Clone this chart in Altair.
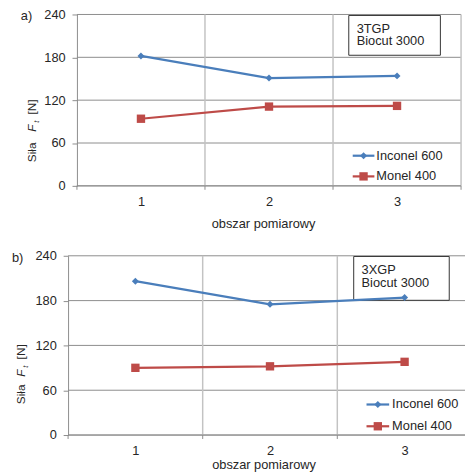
import altair as alt
import pandas as pd

# ---- data ----
areas = [1, 2, 3]
inconel_a = [182, 151, 154]
monel_a = [94, 111, 112]
inconel_b = [206, 175, 184]
monel_b = [90, 92, 98]
series_names = ["Inconel 600", "Monel 400"]
series_colors = ["#4A7EBB", "#BE4B48"]
series_shapes = ["diamond", "square"]
series_sizes = [50, 72]
y_ticks = [0, 60, 120, 180, 240]
x_ticks = [1, 2, 3]
grid_bounds = [1.5, 2.5, 3.5]
tick_bounds = [0.5, 1.5, 2.5, 3.5]
x_title = "obszar pomiarowy"

FONT = "Liberation Sans"
TXT = "#262626"
AX = "#8c8c8c"
VGRID = "#c3c3c3"


def panel(letter, inc, mon, box_lines, W, H, step, shift, c):
    df = pd.DataFrame({
        "area": areas * 2,
        "value": inc + mon,
        "series": [series_names[0]] * 3 + [series_names[1]] * 3,
    })
    x0 = 0.5 - shift / step          # plot starts `shift` px left of the y axis
    xs = alt.Scale(domain=[x0, x0 + W / step], nice=False, zero=False)
    ys = alt.Scale(domain=[0, 240], nice=False, zero=True)
    xaxis = alt.Axis(values=x_ticks, format="d", title=None, ticks=False, grid=False,
                     domain=False, labelFont=FONT, labelFontSize=13, labelColor=TXT,
                     labelPadding=9.5)
    yaxis = alt.Axis(values=y_ticks, title=None, grid=False, offset=-shift,
                     tickSize=5, tickColor=AX, domainColor=AX, labelFont=FONT,
                     labelFontSize=13, labelColor=TXT, labelPadding=7)
    X = alt.X("area:Q", scale=xs, axis=xaxis)
    Y = alt.Y("value:Q", scale=ys, axis=yaxis)
    color = alt.Color("series:N", scale=alt.Scale(domain=series_names, range=series_colors),
                      legend=None)
    one = pd.DataFrame({"k": [0]})

    layers = []
    # horizontal grid lines, starting at the y axis
    hdf = pd.DataFrame({"value": y_ticks})
    layers.append(alt.Chart(hdf).mark_rule(color=AX, strokeWidth=1).encode(
        y=Y, x=alt.datum(0.5, scale=xs), x2=alt.value(W)))
    # vertical grid lines between categories
    gdf = pd.DataFrame({"area": grid_bounds})
    layers.append(alt.Chart(gdf).mark_rule(color=VGRID, strokeWidth=1.5).encode(
        x=X, y=alt.value(0), y2=alt.value(H)))
    tdf = pd.DataFrame({"area": tick_bounds})
    layers.append(alt.Chart(tdf).mark_rule(color=AX, strokeWidth=1).encode(
        x=X, y=alt.value(H), y2=alt.value(H + 4)))
    # x axis line
    layers.append(alt.Chart(one).mark_rule(color=AX, strokeWidth=1).encode(
        x=alt.datum(0.5, scale=xs), x2=alt.value(W), y=alt.value(H)))

    # text box
    layers.append(alt.Chart(one).mark_rect(fill="white", stroke="#333333", strokeWidth=1).encode(
        x=alt.value(c["bx1"]), x2=alt.value(c["bx2"]), y=alt.value(c["by1"]), y2=alt.value(c["by2"])))
    layers.append(alt.Chart(one).mark_text(text=box_lines, align="left", baseline="alphabetic",
                                           lineHeight=c["lh"], font=FONT, fontSize=13, color=TXT).encode(
        x=alt.value(c["tx"]), y=alt.value(c["ty"])))

    layers.append(alt.Chart(df).mark_line(strokeWidth=2.25).encode(x=X, y=Y, color=color))
    for name, shp, sz in zip(series_names, series_shapes, series_sizes):
        layers.append(alt.Chart(df).transform_filter(alt.datum.series == name).mark_point(
            filled=True, opacity=1, shape=shp, size=sz).encode(x=X, y=Y, color=color))

    # legend
    for i, (name, col, shp, sz) in enumerate(zip(series_names, series_colors, series_shapes, series_sizes)):
        ly = c["ly"][i]
        layers.append(alt.Chart(one).mark_rule(color=col, strokeWidth=2.25).encode(
            x=alt.value(c["lx1"]), x2=alt.value(c["lx2"]), y=alt.value(ly)))
        layers.append(alt.Chart(one).mark_point(filled=True, opacity=1, shape=shp, size=sz,
                                                color=col).encode(
            x=alt.value((c["lx1"] + c["lx2"]) / 2), y=alt.value(ly)))
        layers.append(alt.Chart(one).mark_text(text=name, align="left", baseline="middle",
                                               font=FONT, fontSize=13, color=TXT).encode(
            x=alt.value(c["lt"]), y=alt.value(ly)))

    # panel letter
    layers.append(alt.Chart(one).mark_text(text=letter, align="left", baseline="alphabetic",
                                           font=FONT, fontSize=13, color=TXT).encode(
        x=alt.value(c["letx"]), y=alt.value(c["lety"])))

    # y title: "Siła F_t [N]"
    yx = c["ytx"]
    layers.append(alt.Chart(one).mark_text(text="Siła", angle=270, align="left", baseline="alphabetic",
                                           font=FONT, fontSize=12, color=TXT).encode(
        x=alt.value(yx), y=alt.value(c["ys"])))
    layers.append(alt.Chart(one).mark_text(text="F", angle=270, align="left", baseline="alphabetic",
                                           font=FONT, fontSize=12, fontStyle="italic", color=TXT).encode(
        x=alt.value(yx), y=alt.value(c["yf"])))
    layers.append(alt.Chart(one).mark_text(text="t", angle=270, align="left", baseline="alphabetic",
                                           font=FONT, fontSize=8, fontStyle="italic", color=TXT).encode(
        x=alt.value(yx + 3), y=alt.value(c["yf"] - 9)))
    layers.append(alt.Chart(one).mark_text(text="[N]", angle=270, align="left", baseline="alphabetic",
                                           font=FONT, fontSize=12, color=TXT).encode(
        x=alt.value(yx), y=alt.value(c["yn"])))

    # x title
    layers.append(alt.Chart(one).mark_text(text=x_title, align="center", baseline="middle",
                                           font=FONT, fontSize=13, color=TXT).encode(
        x=alt.value(c["xtx"]), y=alt.value(H + c["xty"])))

    return alt.layer(*layers).properties(width=W, height=H)


# panel a: y axis drawn 9 px right of the shared plot origin
cfg_a = dict(bx1=285, bx2=378, by1=1, by2=41.4, tx=293, ty=18.6, lh=12.8,
             lx1=289, lx2=311, lt=313, ly=[143.4, 164.4],
             letx=-48, lety=5.2, ytx=-33, ys=150, yf=119, yn=101.5, xtx=198.5, xty=39.3)
cfg_b = dict(bx1=290, bx2=387, by1=0.7, by2=45.2, tx=298, ty=19, lh=13,
             lx1=303, lx2=326, lt=329, ly=[151, 173.1],
             letx=-57, lety=6.4, ytx=-44, ys=150.7, yf=122.8, yn=105.2, xtx=199, xty=30)

pa = panel("a)", inconel_a, monel_a, ["3TGP", "Biocut 3000"], 399, 174, 130.0, 9, cfg_a)
pb = panel("b)", inconel_b, monel_b, ["3XGP", "Biocut 3000"], 410, 182, 136.67, 0, cfg_b)

chart = alt.vconcat(pa, pb, spacing=18).properties(
    padding={"left": 4, "top": -3, "right": -8, "bottom": 0}
).configure_view(stroke=None)

chart.save("out.html", embed_options={"renderer": "svg", "actions": False})
